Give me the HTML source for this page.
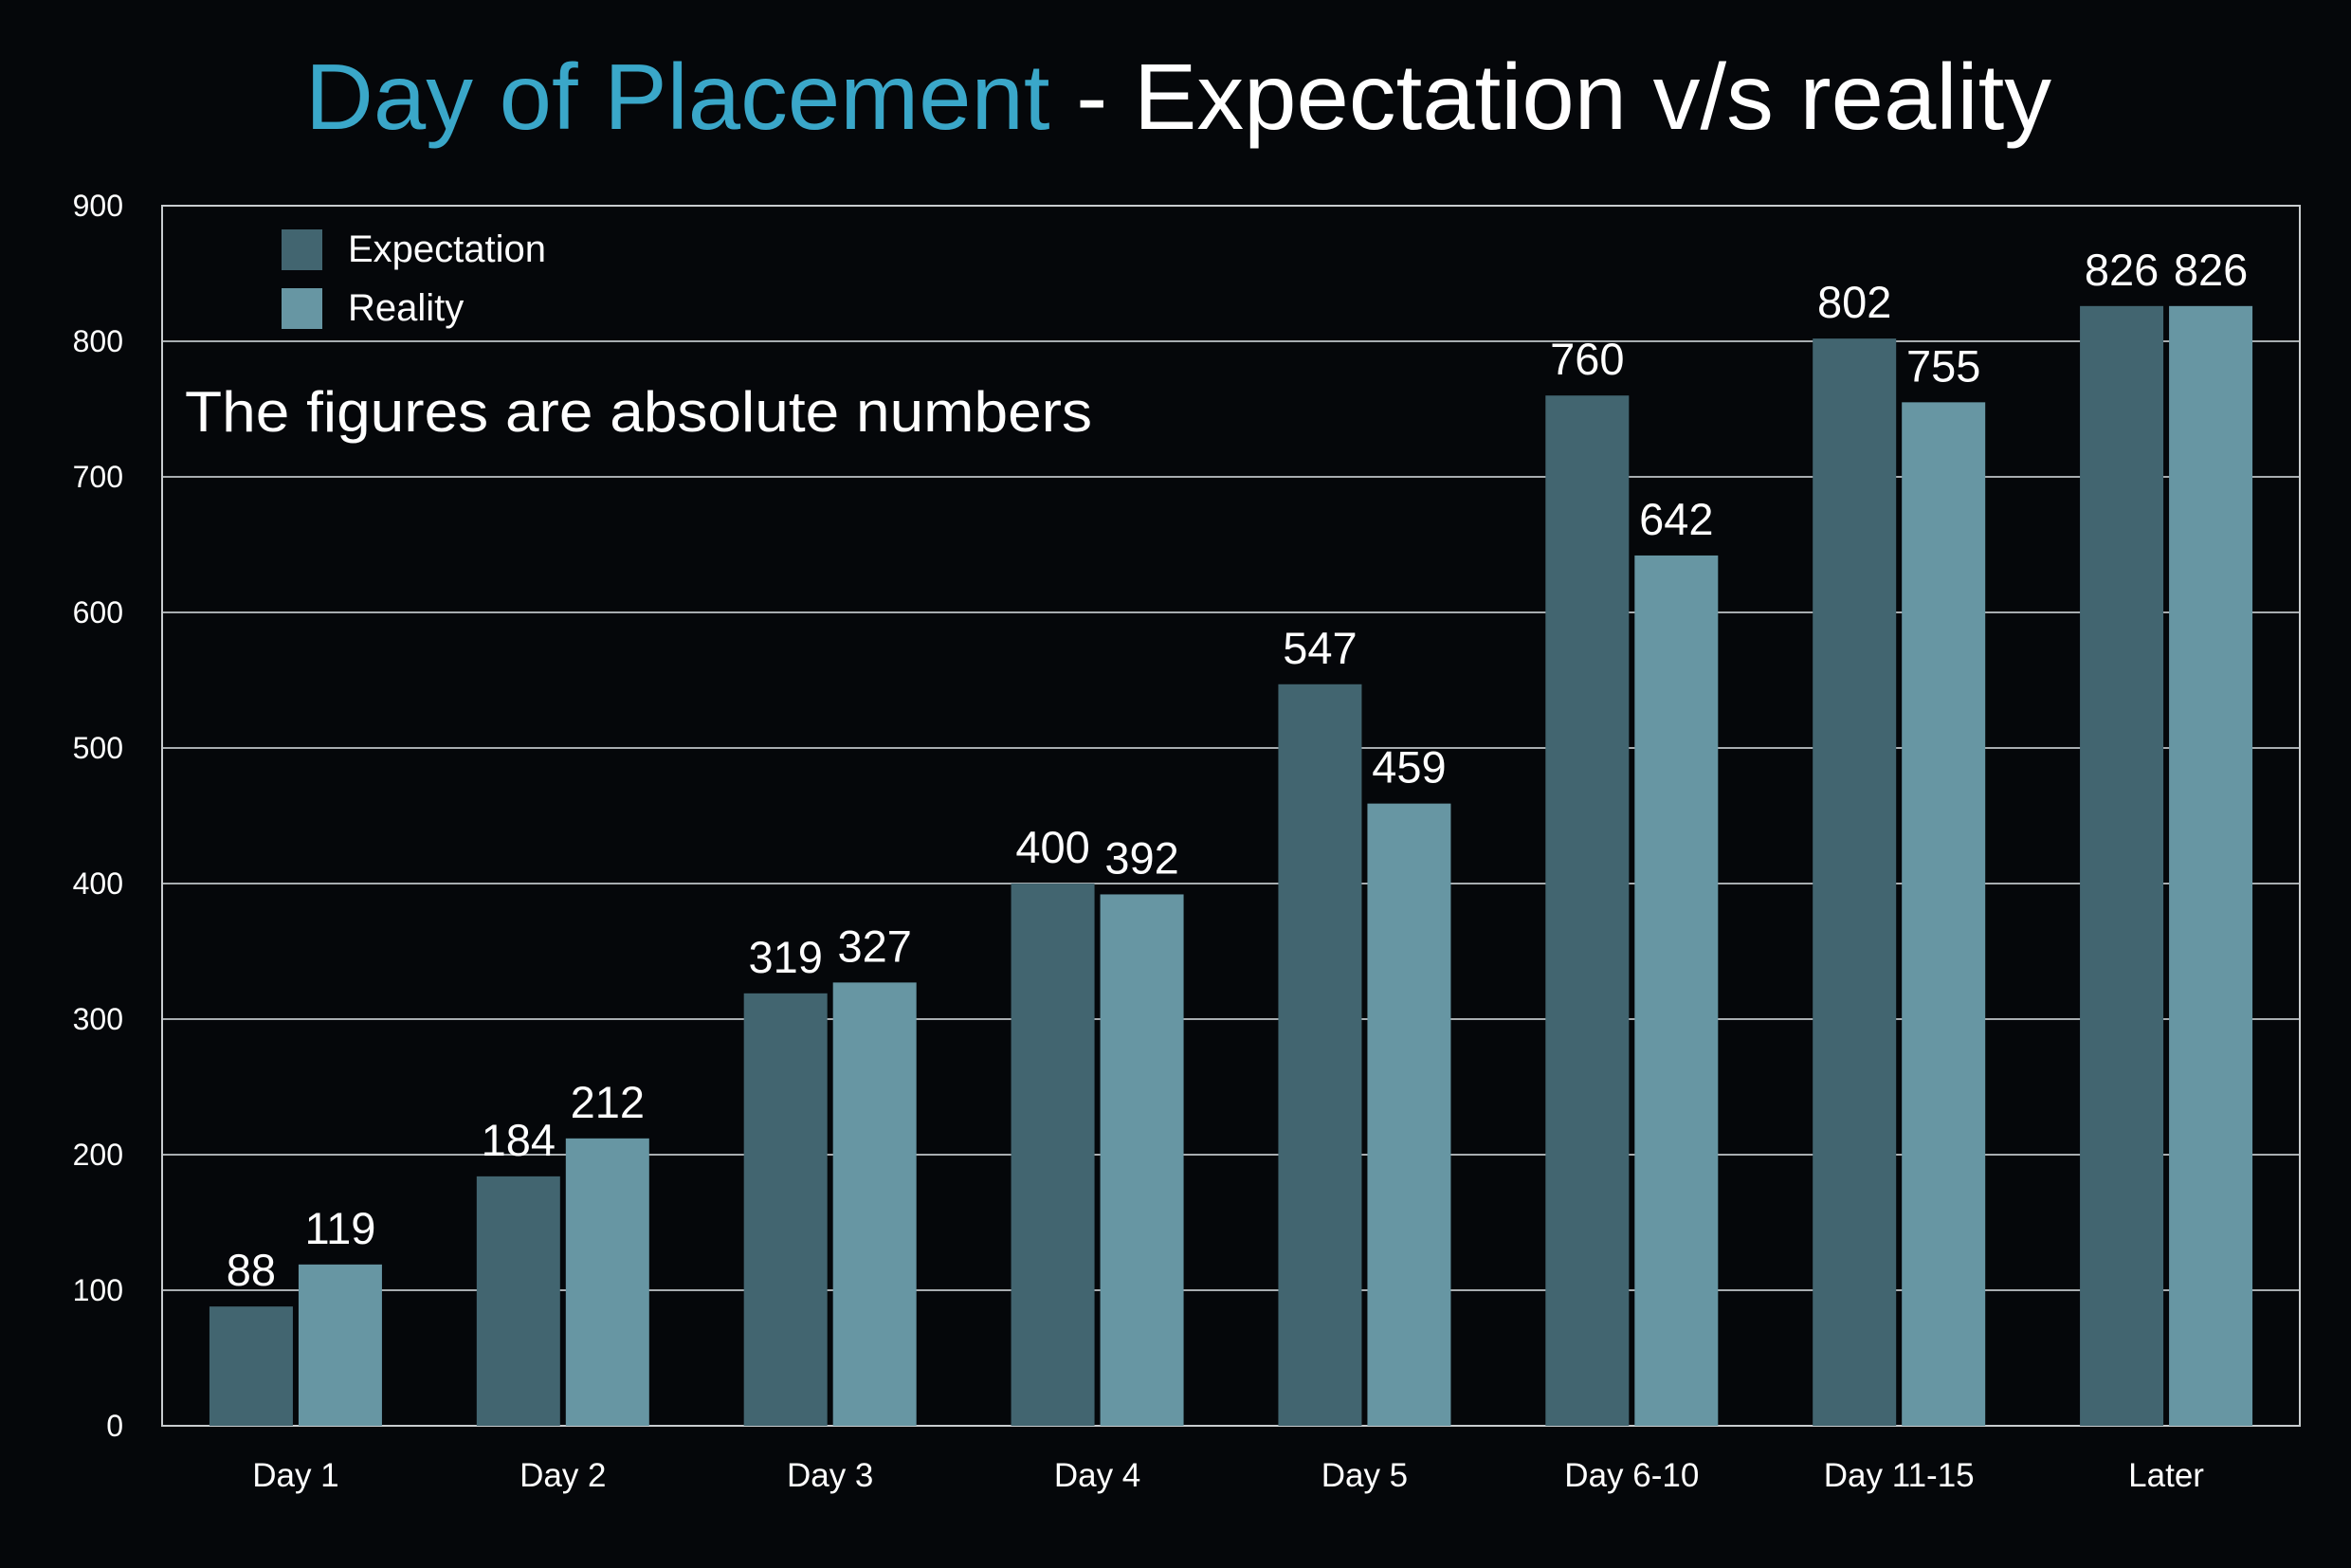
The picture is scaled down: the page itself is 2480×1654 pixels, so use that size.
<!DOCTYPE html>
<html><head><meta charset="utf-8"><style>
html,body{margin:0;padding:0;background:#05070a;}
svg{display:block;font-family:"Liberation Sans",sans-serif;}
</style></head><body>
<svg id="chart" width="2480" height="1654" viewBox="0 0 2480 1654">
<rect width="2480" height="1654" fill="#05070a"/>
<text x="1243" y="136" text-anchor="middle" font-size="98" textLength="1842" lengthAdjust="spacingAndGlyphs"><tspan fill="#3aa7c9">Day of Placement</tspan><tspan fill="#ffffff"> - Expectation v/s reality</tspan></text>
<g id="grid"></g>
<g id="bars"></g>
<g id="labels"></g>
<rect x="297" y="242" width="43" height="43" fill="#426570"/>
<text x="367" y="276" font-size="40" fill="#ffffff">Expectation</text>
<rect x="297" y="304" width="43" height="43" fill="#6796a3"/>
<text x="367" y="338" font-size="40" fill="#ffffff">Reality</text>
<text x="195" y="455" font-size="60" fill="#ffffff" textLength="957" lengthAdjust="spacingAndGlyphs">The figures are absolute numbers</text>
</svg>
<script>
const categories = ["Day 1","Day 2","Day 3","Day 4","Day 5","Day 6-10","Day 11-15","Later"];
const expectation = [88,184,319,400,547,760,802,826];
const reality = [119,212,327,392,459,642,755,826];
const yTicks = [0,100,200,300,400,500,600,700,800,900];
const NS="http://www.w3.org/2000/svg";
const L=171,R=2426,T=217,B=1504,YMAX=900;
const y=v=>B-(v/YMAX)*(B-T);
const band=(R-L)/categories.length;
const xc=i=>L+band*(i+0.5);
const BW=88,GAP=6;
function mk(tag,attrs,parent){const e=document.createElementNS(NS,tag);for(const k in attrs)e.setAttribute(k,attrs[k]);parent.appendChild(e);return e;}
const grid=document.getElementById('grid'),bars=document.getElementById('bars'),labels=document.getElementById('labels');
yTicks.forEach(t=>{
  const ln=mk('line',{x1:L,x2:R,y1:y(t),y2:y(t),stroke:'#a8adb0','stroke-width':2},grid);
  
  
  const tx=mk('text',{x:130,y:y(t)+11,'font-size':32,fill:'#ffffff','text-anchor':'end'},grid);
  tx.textContent=t;
  
  
});
const fr=mk('rect',{x:L,y:T,width:R-L,height:B-T,fill:'none',stroke:'#c8cccf','stroke-width':2},grid);


categories.forEach((c,i)=>{
  const cx=xc(i);
  [[expectation[i],cx-GAP/2-BW,'#426570','expectation'],[reality[i],cx+GAP/2,'#6796a3','reality']].forEach(([v,x,col,s])=>{
    const r=mk('rect',{x:x,y:y(v),width:BW,height:B-y(v),fill:col},bars);
    
    
    const t=mk('text',{x:x+BW/2,y:y(v)-22,'font-size':47,fill:'#ffffff','text-anchor':'middle'},labels);
    t.textContent=v;
    
    
  });
  const ct=mk('text',{x:cx,y:1568,'font-size':35,fill:'#ffffff','text-anchor':'middle'},labels);
  ct.textContent=c;
  
  
});
</script>
</body></html>
